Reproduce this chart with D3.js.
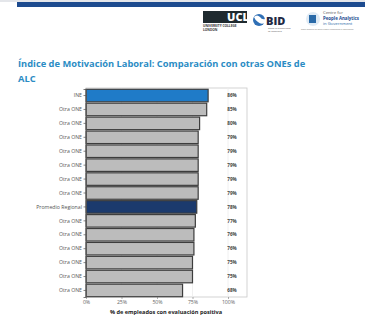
<!DOCTYPE html>
<html>
<head>
<meta charset="utf-8">
<script src="https://cdn.jsdelivr.net/npm/d3@7"></script>
<style>
  html, body { margin: 0; padding: 0; background: #ffffff; }
  svg { display: block; font-family: "Open Sans", "Noto Sans", sans-serif; }
</style>
</head>
<body>
<svg id="chart" width="365" height="327"></svg>
<script>
// Motivation index by national statistics office
const categories = ["INE", "Otra ONE", "Otra ONE", "Otra ONE", "Otra ONE", "Otra ONE", "Otra ONE", "Otra ONE",
  "Promedio Regional", "Otra ONE", "Otra ONE", "Otra ONE", "Otra ONE", "Otra ONE", "Otra ONE"];
const values = [86, 85, 80, 79, 79, 79, 79, 79, 78, 77, 76, 76, 75, 75, 68];
const kinds = ["focus", "other", "other", "other", "other", "other", "other", "other",
  "average", "other", "other", "other", "other", "other", "other"];
const xTicks = [0, 25, 50, 75, 100];

const svg = d3.select("#chart");

// header band
svg.append("rect").attr("x", 0).attr("y", 0).attr("width", 365).attr("height", 2).attr("fill", "#e4e6ea");
svg.append("rect").attr("x", 17).attr("y", 2).attr("width", 348).attr("height", 5).attr("fill", "#1d4b8f");

// logos
const logos = svg.append("g");
logos.append("rect").attr("x", 203).attr("y", 11).attr("width", 44).attr("height", 12).attr("fill", "#1f2a2f");
logos.append("text").attr("x", 238).attr("y", 21).attr("text-anchor", "middle")
  .attr("font-size", 11).attr("font-weight", 900).attr("fill", "#ffffff").text("UCL");
logos.append("text").attr("x", 203).attr("y", 27).attr("font-size", 3.2).attr("font-weight", 700).attr("fill", "#333").text("UNIVERSITY COLLEGE");
logos.append("text").attr("x", 203).attr("y", 31).attr("font-size", 3.2).attr("font-weight", 700).attr("fill", "#333").text("LONDON");
logos.append("circle").attr("cx", 259).attr("cy", 20).attr("r", 6).attr("fill", "#2f6fb5");
logos.append("path").attr("d", "M254,17 q3,-3 6,0 q2,3 5,2 l0,4 q-4,2 -7,-1 q-3,-2 -4,-5z").attr("fill", "#ffffff");
logos.append("text").attr("x", 266).attr("y", 25).attr("font-size", 11).attr("font-weight", 900).attr("fill", "#1f2a44").text("BID");
logos.append("text").attr("x", 268).attr("y", 29).attr("font-size", 2.2).attr("fill", "#555").text("Banco Interamericano");
logos.append("text").attr("x", 268).attr("y", 31.5).attr("font-size", 2.2).attr("fill", "#555").text("de Desarrollo");
logos.append("circle").attr("cx", 313).attr("cy", 19).attr("r", 7).attr("fill", "#dfeaf4");
logos.append("rect").attr("x", 309).attr("y", 15).attr("width", 7).attr("height", 8).attr("fill", "#2a6aa8");
logos.append("text").attr("x", 323).attr("y", 14).attr("font-size", 4.2).attr("fill", "#555").text("Centre for");
logos.append("text").attr("x", 323).attr("y", 19.5).attr("font-size", 4.4).attr("font-weight", 700).attr("fill", "#1d4b8f").text("People Analytics");
logos.append("text").attr("x", 323).attr("y", 25).attr("font-size", 4.2).attr("fill", "#2a6aa8").text("in Government");
logos.append("text").attr("x", 301).attr("y", 30).attr("font-size", 1.8).attr("fill", "#777").text("Better Evidence for Better People Management in Government");

// title
const title = svg.append("text").attr("x", 18).attr("font-size", 9.3).attr("font-weight", 700).attr("fill", "#2b8cc4");
title.append("tspan").attr("x", 18).attr("y", 67).text("Índice de Motivación Laboral: Comparación con otras ONEs de");
title.append("tspan").attr("x", 18).attr("y", 82).text("ALC");

// plot area
const plotLeft = 86, plotRight = 247, plotTop = 88, plotBottom = 297;
const x = d3.scaleLinear().domain([0, 100]).range([plotLeft, 228]);
const y = d3.scaleBand().domain(d3.range(values.length)).range([plotTop + 1, plotBottom]).paddingInner(0.1).paddingOuter(0.02);

svg.append("rect").attr("x", plotLeft).attr("y", plotTop).attr("width", plotRight - plotLeft).attr("height", plotBottom - plotTop)
  .attr("fill", "#ffffff").attr("stroke", "#c8c8c8").attr("stroke-width", 0.8);

svg.append("g").selectAll("line").data(xTicks.slice(1)).join("line")
  .attr("x1", d => x(d)).attr("x2", d => x(d)).attr("y1", plotTop).attr("y2", plotBottom)
  .attr("stroke", "#ececec").attr("stroke-width", 0.8);

const fills = { focus: "#1f7bc8", average: "#1b3a6d", other: "#bcbcbc" };
svg.append("g").selectAll("rect").data(values).join("rect")
  .attr("x", x(0)).attr("y", (d, i) => y(i))
  .attr("width", d => x(d) - x(0)).attr("height", y.bandwidth())
  .attr("fill", (d, i) => fills[kinds[i]])
  .attr("stroke", "#3d3d3d").attr("stroke-width", 1.2);

// value labels
svg.append("g").selectAll("text").data(values).join("text")
  .attr("x", 232).attr("y", (d, i) => y(i) + y.bandwidth() / 2 + 1.7)
  .attr("text-anchor", "middle").attr("font-size", 4.6).attr("font-weight", 700).attr("fill", "#444")
  .text(d => d + "%");

// category axis
const yAxis = d3.axisLeft(y).tickFormat(i => categories[i]).tickSize(2.5).tickPadding(1.5);
const gy = svg.append("g").attr("transform", `translate(${plotLeft},0)`).call(yAxis);
gy.select(".domain").attr("stroke", "#555").attr("stroke-width", 0.8);
gy.selectAll(".tick line").attr("stroke", "#555").attr("stroke-width", 0.7);
gy.selectAll(".tick text").attr("font-size", 5.2).attr("fill", "#555").attr("font-family", "\"Open Sans\", sans-serif");

// value axis
const xAxis = d3.axisBottom(x).tickValues(xTicks).tickFormat(d => d + "%").tickSize(2).tickPadding(1.5);
const gx = svg.append("g").attr("transform", `translate(0,${plotBottom})`).call(xAxis);
gx.select(".domain").remove();
gx.selectAll(".tick line").attr("stroke", "#777").attr("stroke-width", 0.6);
gx.selectAll(".tick text").attr("font-size", 5.2).attr("fill", "#666").attr("font-family", "\"Open Sans\", sans-serif");

svg.append("text").attr("x", 166).attr("y", 314).attr("text-anchor", "middle")
  .attr("font-size", 5.6).attr("font-weight", 700).attr("fill", "#222")
  .text("% de empleados con evaluación positiva");
</script>
</body>
</html>
